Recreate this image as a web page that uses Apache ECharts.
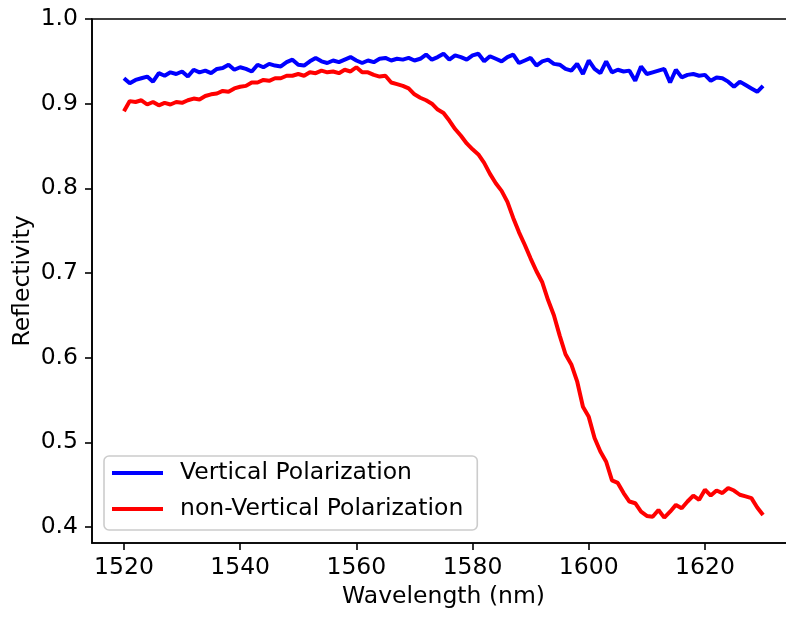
<!DOCTYPE html>
<html>
<head>
<meta charset="utf-8">
<script src="https://cdn.jsdelivr.net/npm/echarts@6/dist/echarts.min.js"></script>
<style>
html,body{margin:0;padding:0;background:#fff;}
#chart{width:786px;height:617px;}
</style>
</head>
<body>
<div id="chart"></div>
<script>
// Wavelength (nm), 1 nm steps
const wavelengths = [];
for (let w = 1520; w <= 1630; w++) wavelengths.push(w);

const verticalPol = [
0.930,0.924,0.928,0.930,0.932,0.926,0.936,0.933,0.937,0.935,
0.938,0.932,0.940,0.937,0.939,0.936,0.941,0.942,0.946,0.940,
0.943,0.941,0.938,0.946,0.943,0.947,0.945,0.944,0.949,0.952,
0.946,0.945,0.950,0.954,0.950,0.948,0.951,0.949,0.952,0.955,
0.951,0.948,0.951,0.949,0.953,0.954,0.951,0.953,0.952,0.954,
0.951,0.953,0.958,0.952,0.955,0.959,0.952,0.957,0.955,0.952,
0.957,0.959,0.950,0.956,0.953,0.950,0.955,0.958,0.948,0.951,
0.954,0.945,0.950,0.952,0.947,0.946,0.941,0.939,0.947,0.935,
0.951,0.941,0.936,0.950,0.937,0.940,0.938,0.939,0.927,0.944,
0.935,0.937,0.939,0.941,0.925,0.940,0.931,0.934,0.935,0.933,
0.934,0.927,0.931,0.930,0.926,0.920,0.926,0.922,0.918,0.914,
0.921
];

const nonVerticalPol = [
0.891,0.903,0.902,0.904,0.899,0.902,0.898,0.901,0.899,0.902,
0.901,0.904,0.906,0.905,0.909,0.911,0.912,0.915,0.914,0.918,
0.920,0.921,0.925,0.925,0.928,0.927,0.930,0.930,0.933,0.933,
0.935,0.933,0.937,0.936,0.939,0.937,0.938,0.936,0.940,0.938,
0.943,0.937,0.937,0.934,0.932,0.933,0.925,0.923,0.921,0.918,
0.911,0.907,0.904,0.900,0.893,0.889,0.880,0.870,0.862,0.853,
0.846,0.840,0.830,0.817,0.806,0.797,0.784,0.765,0.748,0.733,
0.717,0.702,0.689,0.668,0.650,0.626,0.604,0.592,0.572,0.542,
0.530,0.505,0.489,0.477,0.455,0.452,0.440,0.430,0.428,0.418,
0.413,0.412,0.420,0.411,0.418,0.426,0.422,0.430,0.437,0.432,
0.444,0.437,0.443,0.440,0.446,0.443,0.438,0.436,0.434,0.423,
0.414
];

const xTicks = [1520, 1540, 1560, 1580, 1600, 1620];
const yTicks = [0.4, 0.5, 0.6, 0.7, 0.8, 0.9, 1.0];
const seriesNames = ['Vertical Polarization', 'non-Vertical Polarization'];

const FONT = 'DejaVu Sans';
const FS = 23.5;
const chart = echarts.init(document.getElementById('chart'), null, {renderer: 'canvas'});
const toPairs = (xs, ys) => xs.map((x, i) => [x, ys[i]]);

chart.setOption({
  animation: false,
  backgroundColor: '#ffffff',
  textStyle: {fontFamily: FONT},
  grid: {
    left: 92, top: 19, width: 703, height: 524,
    containLabel: false, outerBoundsMode: 'none',
    show: true, borderColor: '#000', borderWidth: 1.6, backgroundColor: 'transparent'
  },
  xAxis: {
    type: 'value', min: 1514.5, max: 1635.5,
    name: 'Wavelength (nm)', nameLocation: 'middle', nameGap: 42, nameMoveOverlap: false,
    nameTextStyle: {fontFamily: FONT, fontSize: FS, color: '#000'},
    axisLine: {show: true, lineStyle: {color: '#000', width: 1.6}},
    axisTick: {show: true, inside: false, length: 7, lineStyle: {color: '#000', width: 1.6}, customValues: xTicks},
    axisLabel: {show: true, margin: 13, fontFamily: FONT, fontSize: FS, color: '#000', customValues: xTicks,
      formatter: v => String(Math.round(v))},
    splitLine: {show: false}
  },
  yAxis: {
    type: 'value', min: 0.381, max: 1.0,
    name: 'Reflectivity', nameLocation: 'middle', nameGap: 57, nameRotate: 90, nameMoveOverlap: false,
    nameTextStyle: {fontFamily: FONT, fontSize: FS, color: '#000'},
    axisLine: {show: true, lineStyle: {color: '#000', width: 1.6}},
    axisTick: {show: true, inside: false, length: 7, lineStyle: {color: '#000', width: 1.6}, customValues: yTicks},
    axisLabel: {show: true, margin: 14, fontFamily: FONT, fontSize: FS, color: '#000', customValues: yTicks,
      formatter: v => v.toFixed(1)},
    splitLine: {show: false}
  },
  legend: {
    orient: 'vertical', left: 104, top: 456,
    data: seriesNames.map(n => ({name: n, icon: 'rect'})),
    itemWidth: 51, itemHeight: 4, itemGap: 10,
    padding: [4, 14, 8, 8],
    backgroundColor: 'rgba(255,255,255,0.8)',
    borderColor: '#cccccc', borderWidth: 1.6, borderRadius: 5,
    textStyle: {fontFamily: FONT, fontSize: FS, color: '#000', lineHeight: 26, padding: [0, 0, 0, 12]}
  },
  series: [
    {name: seriesNames[0], type: 'line', data: toPairs(wavelengths, verticalPol),
      showSymbol: false, symbol: 'none', lineStyle: {color: '#0000ff', width: 4}, itemStyle: {color: '#0000ff'}},
    {name: seriesNames[1], type: 'line', data: toPairs(wavelengths, nonVerticalPol),
      showSymbol: false, symbol: 'none', lineStyle: {color: '#ff0000', width: 4}, itemStyle: {color: '#ff0000'}}
  ]
});
</script>
</body>
</html>
